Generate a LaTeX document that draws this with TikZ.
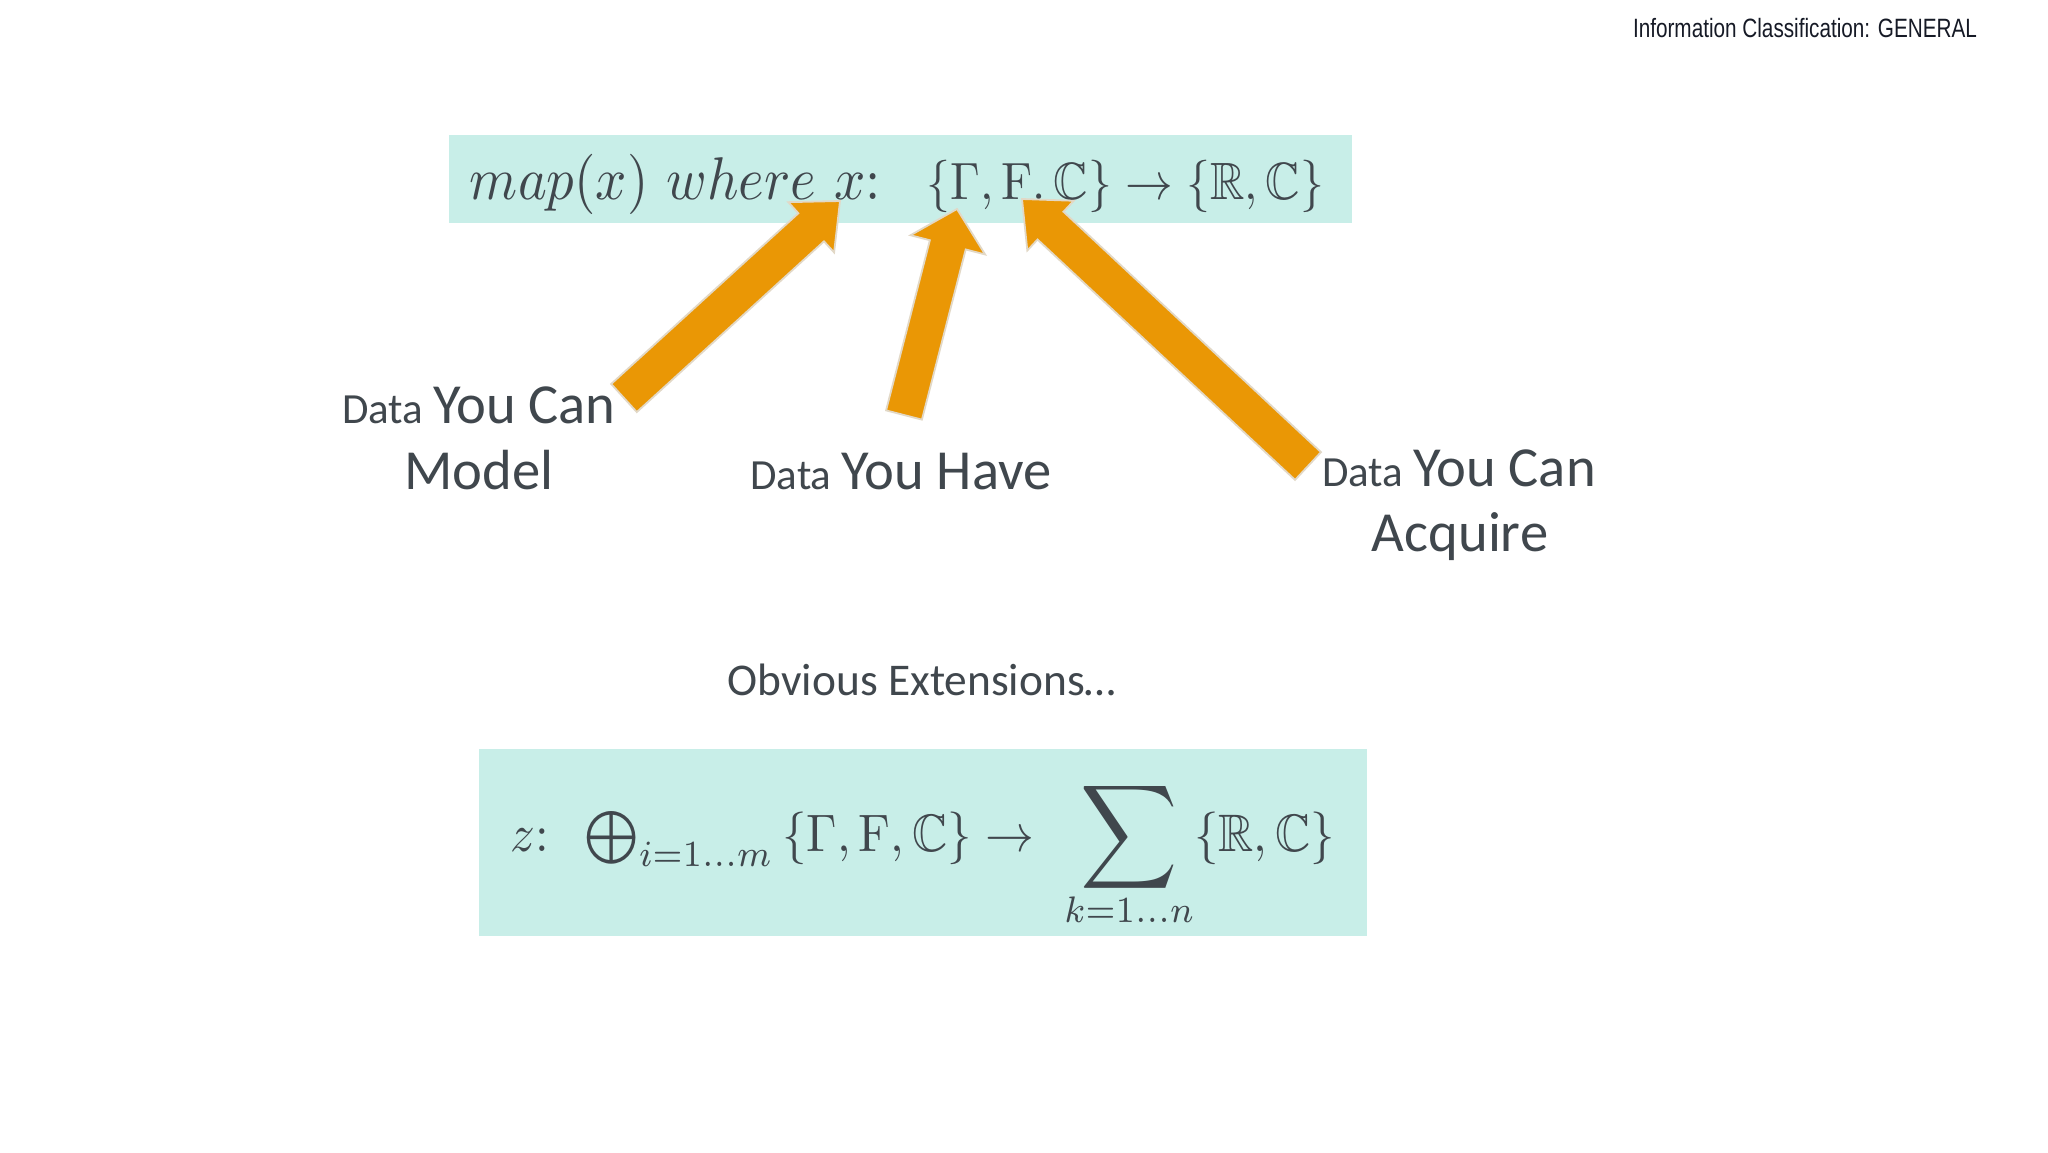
\documentclass[tikz,border=0pt]{standalone}
\usepackage{amsmath,amssymb}
\usepackage{graphicx}
\usepackage{fontspec}
\newfontfamily\carlito{Carlito}
\newfontfamily\libsans{Liberation Sans}
\usetikzlibrary{calc}
\definecolor{boxc}{RGB}{200,238,232}
\definecolor{arrc}{RGB}{234,151,5}
\definecolor{txt}{RGB}{64,71,77}
\definecolor{halo}{RGB}{226,216,198}
\definecolor{hdr}{RGB}{22,26,38}
\newcommand\blockarrow[5]{%
  \path ($(#2)!#5!(#1)$) coordinate (bb);
  \filldraw[arrowst] ($(#1)!#3!90:(#2)$) -- ($(bb)!#3!90:(#2)$) -- ($(bb)!#4!90:(#2)$) -- (#2)
    -- ($(bb)!#4!-90:(#2)$) -- ($(bb)!#3!-90:(#2)$) -- ($(#1)!#3!-90:(#2)$) -- cycle;}
\newcommand\smdata{{\fontsize{21.5}{24}\selectfont Data }}
\begin{document}
\begin{tikzpicture}[x=0.5pt,y=-0.5pt,
  eqbox/.style={fill=boxc, draw=none, inner sep=0pt},
  arrowst/.style={fill=arrc, draw=halo, line width=0.9pt, line join=miter},
  lab/.style={text=txt, inner sep=0pt, anchor=base},
  big/.style={font=\carlito\fontsize{28.3}{32}\selectfont}]
\useasboundingbox (0,0) rectangle (2048,1152);
\fill[white] (0,0) rectangle (2048,1152);

% header
\node[anchor=base, inner sep=0pt, text=hdr] (hdr) at (1805,37)
  {\resizebox{172pt}{9.6pt}{\libsans Information Classification: GENERAL}};

% top formula box
\node[eqbox, minimum width=451.5pt, minimum height=44pt] (topbox) at (900.5,179) {};
\node[anchor=base, inner sep=0pt, text=txt] (topf) at (897,199)
  {\scalebox{1}[1.1]{\resizebox{427pt}{!}{\scalebox{1.08}{$map(x)\ where\ x{:}$}\hspace{9pt}\scalebox{0.94}{$\{\Gamma,\mathrm{F}.\,\mathbb{C}\}\to\{\mathbb{R},\mathbb{C}\}$}}}};

% arrows
\coordinate (a1t) at (624,398); \coordinate (a1h) at (840,201);
\coordinate (a2t) at (904,415); \coordinate (a2h) at (957,209);
\coordinate (a3t) at (1308,466); \coordinate (a3h) at (1022,199);
\blockarrow{a1t}{a1h}{9.5pt}{17pt}{19.5pt}
\blockarrow{a2t}{a2h}{9.25pt}{19.25pt}{18.5pt}
\blockarrow{a3t}{a3h}{9.5pt}{17pt}{19.5pt}

% labels
\node[lab, big] (l1a) at (479,423) {\smdata You Can};
\node[lab, big] (l1b) at (479,489) {Model};
\node[lab, big] (l2) at (901,489) {\smdata You Have};
\node[lab, big] (l3a) at (1459,486) {\smdata You Can};
\node[lab, big] (l3b) at (1460,551) {Acquire};
\node[lab, font=\carlito\fontsize{22.7}{26}\selectfont] (obv) at (922,695) {Obvious Extensions…};

% bottom formula box
\node[eqbox, minimum width=444pt, minimum height=93.5pt] (botbox) at (923,842.5) {};
\node[anchor=base, inner sep=0pt, text=txt] (botf) at (923,851)
  {\scalebox{1}[1.08]{\resizebox{412pt}{!}{$z{:}\;\;\bigoplus\nolimits_{i=1\ldots m}\,\{\Gamma,\mathrm{F},\mathbb{C}\}\to\ \mathop{\vcenter{\hbox{\scalebox{1.38}{$\displaystyle\sum$}}}}\limits_{\smash{\raisebox{1pt}{$\scriptstyle k=1\ldots n$}}}\{\mathbb{R},\mathbb{C}\}$}}};
\end{tikzpicture}
\end{document}
